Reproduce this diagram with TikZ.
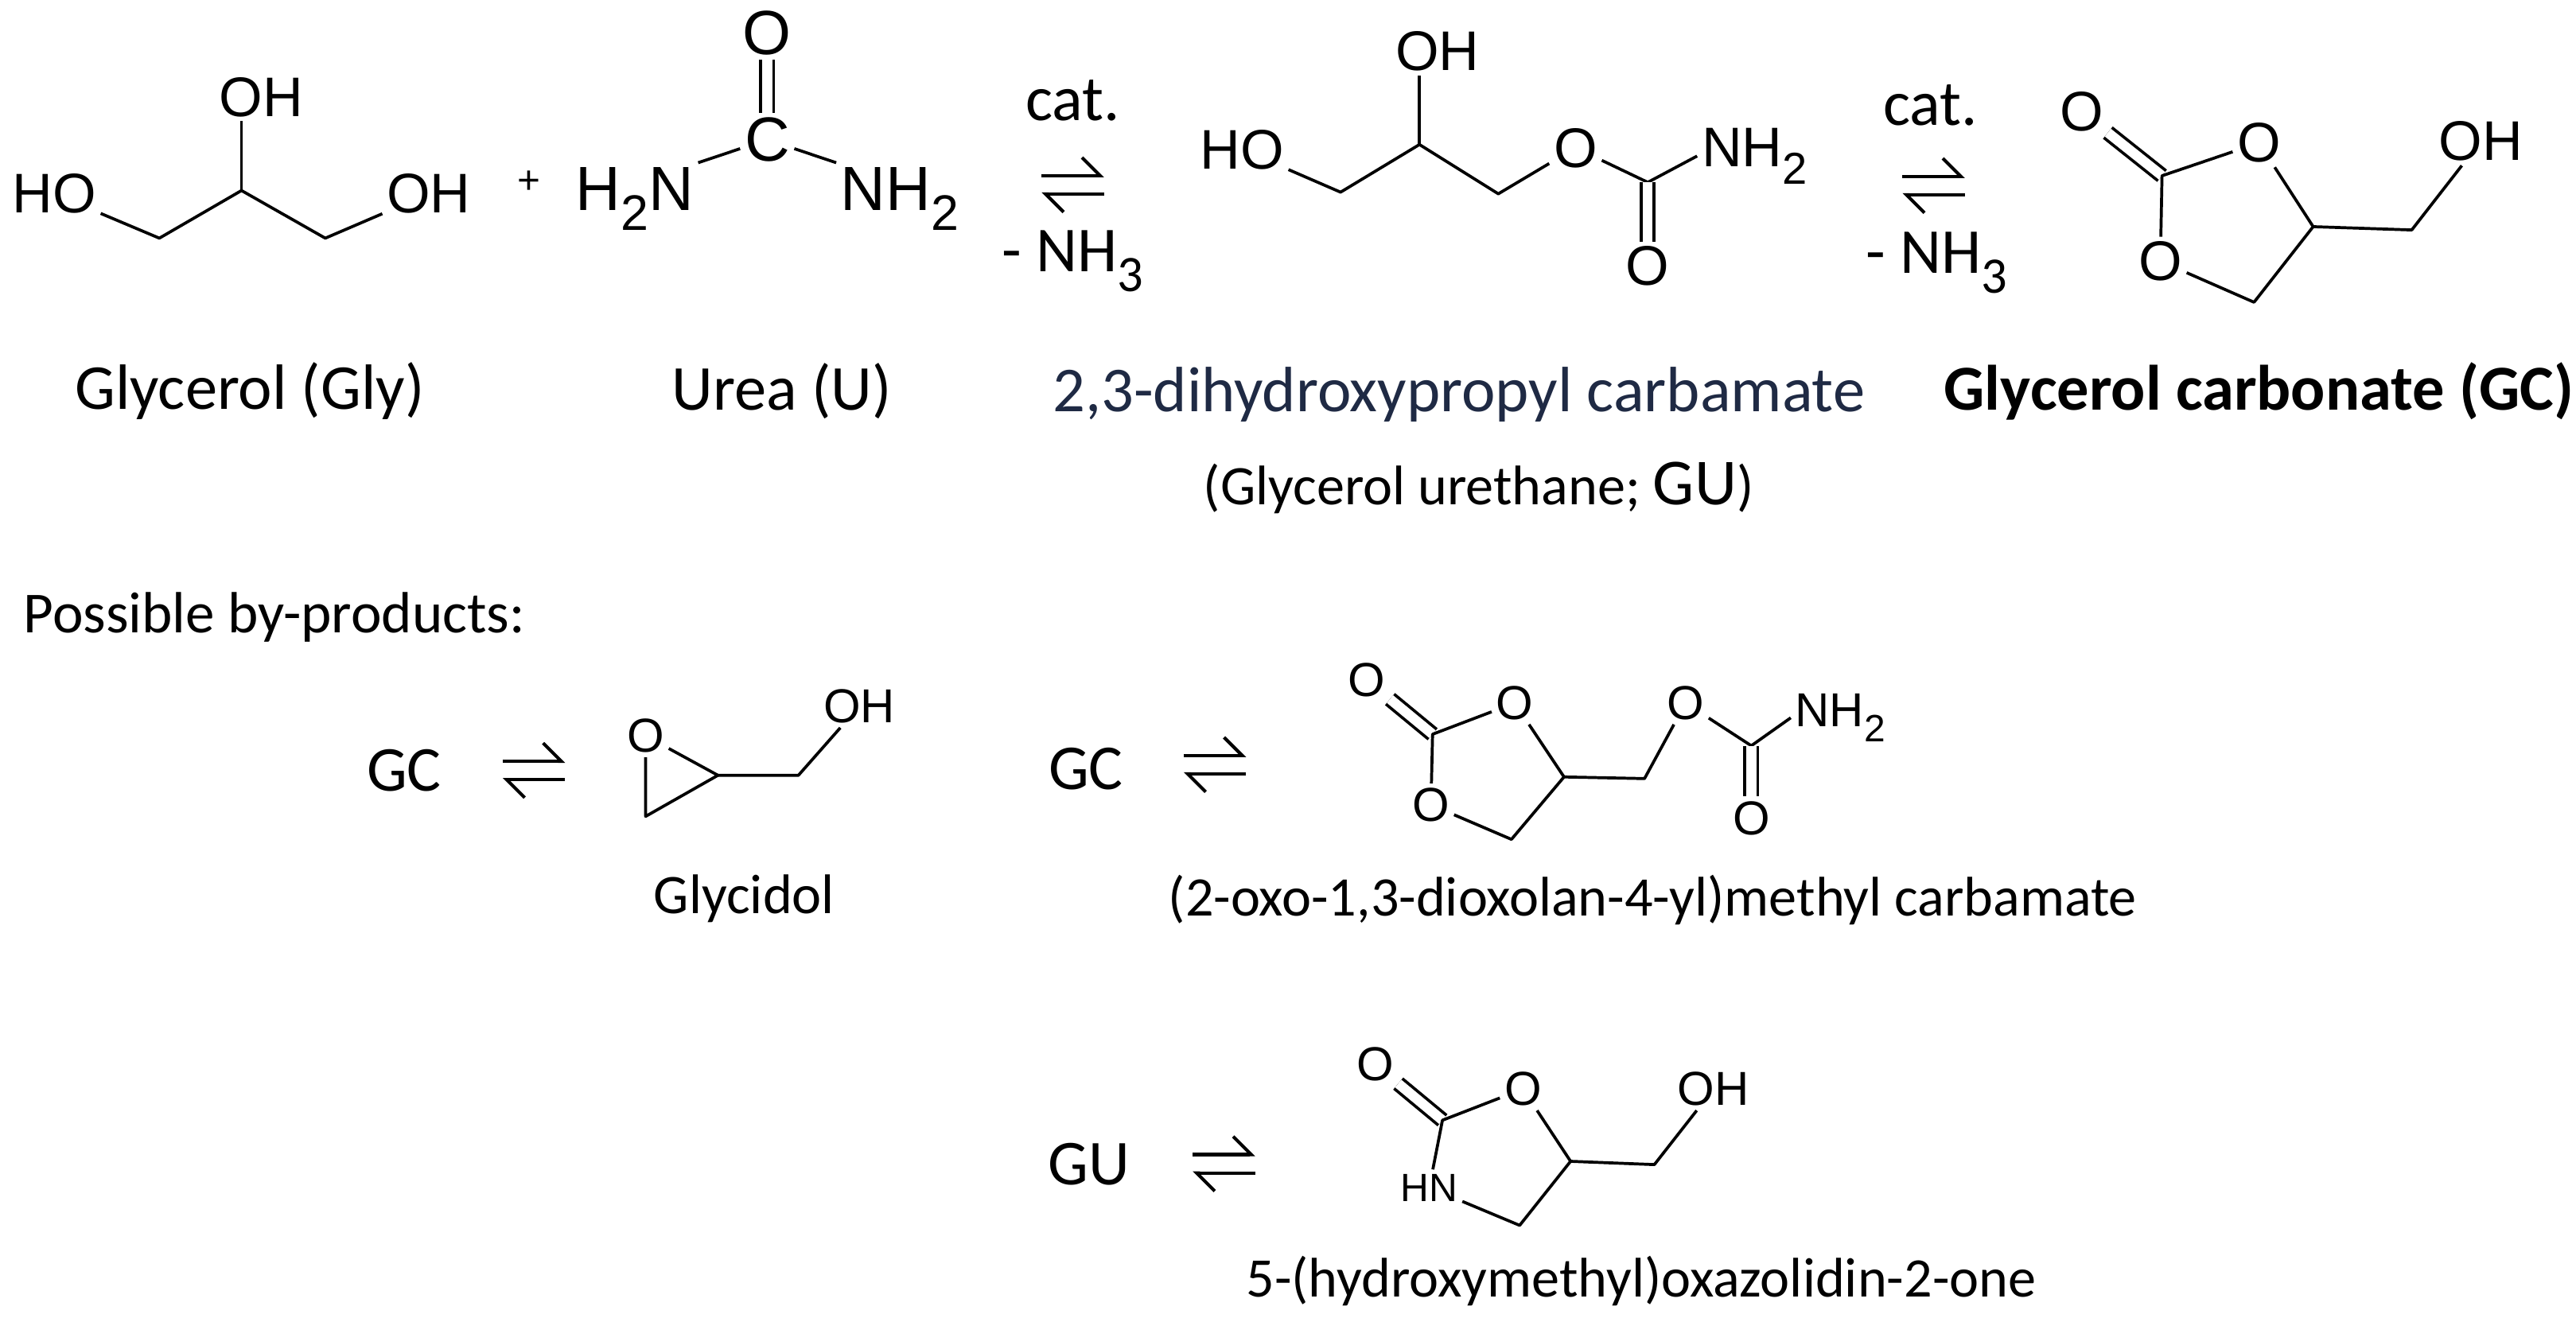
\documentclass[tikz,border=0pt]{standalone}
\usepackage{fontspec}
\usepackage{graphicx}
\setmainfont{Carlito}
\newfontfamily\atomfam{Liberation Sans}
\usetikzlibrary{arrows.meta}
\definecolor{nameblue}{HTML}{1F2A44}
\newcommand{\sbs}[1]{\raisebox{-.32em}{\scalebox{.8}{#1}}}
\tikzset{
  atom/.style={font=\atomfam\fontsize{17}{20}\selectfont,inner sep=1.2pt},
  atombig/.style={font=\atomfam\fontsize{19}{22}\selectfont,inner sep=1.2pt},
  atomsm/.style={font=\atomfam\fontsize{14.5}{17}\selectfont,inner sep=1.2pt},
  atomxs/.style={font=\atomfam\fontsize{12}{14}\selectfont,inner sep=1.2pt},
  lbl/.style={font=\fontsize{19.5}{23}\selectfont,inner sep=0pt},
  lblsm/.style={font=\fontsize{17}{20}\selectfont,inner sep=0pt},
  bond/.style={line width=.9pt,line join=round},
  dbl/.style={bond,double,double distance=3pt},
  harp/.style={line width=1pt,-{Straight Barb[left,length=5.5pt,width=11pt]}}
}
\begin{document}
\begin{tikzpicture}[x=.5pt,y=-.5pt]
\useasboundingbox (0,0) rectangle (1568,802.4);
% glycerol
\node[atom] (glyHO) at (33,118) {HO};
\node[atom] (glyOHa) at (159,59) {OH};
\node[atom] (glyOHb) at (261,118) {OH};
\coordinate (glyCa) at (97,145);
\coordinate (glyCb) at (147,116);
\coordinate (glyCc) at (198,145);
\draw[bond] (glyHO) -- (glyCa) -- (glyCb) -- (glyCc) -- (glyOHb);
\draw[bond] (glyCb) -- (glyCb |- glyOHa.south);
\node[font=\atomfam\fontsize{12}{14}\selectfont,inner sep=0pt] (plus) at (322,111) {+};
% urea
\node[atombig] (urO) at (467,20) {O};
\node[atombig] (urC) at (467,85) {C};
\node[atombig,anchor=east] (urNa) at (425,121) {H\sbs{2}N};
\node[atombig,anchor=west] (urNb) at (509,121) {NH\sbs{2}};
\draw[dbl] (urO) -- (urC);
\draw[bond] (urC) -- (urNa.north east);
\draw[bond] (urC) -- (urNb.north west);
% glycerol urethane
\node[atom] (guHO) at (756,91) {HO};
\node[atom] (guOHa) at (875,31) {OH};
\node[atom] (guOb) at (959,90) {O};
\node[atom,anchor=west] (guN) at (1033,95) {NH\sbs{2}};
\node[atom] (guOc) at (1003,162) {O};
\coordinate (guCa) at (816,117);
\coordinate (guCb) at (864,88);
\coordinate (guCc) at (912,118);
\coordinate (guCd) at (1003,111);
\draw[bond] (guHO) -- (guCa) -- (guCb) -- (guCc) -- (guOb) -- (guCd) -- (guN.west);
\draw[bond] (guCb) -- (guCb |- guOHa.south);
\draw[dbl] (guCd) -- (guOc);
% glycerol carbonate
\node[atom] (gcOa) at (1267,68) {O};
\node[atom] (gcOb) at (1375,87) {O};
\node[atom] (gcOc) at (1315,159) {O};
\node[atom] (gcOH) at (1510,86) {OH};
\coordinate (gcCa) at (1316,107);
\coordinate (gcCb) at (1408,138);
\coordinate (gcCc) at (1372,184);
\coordinate (gcCd) at (1468,140);
\draw[dbl] (gcOa) -- (gcCa);
\draw[bond] (gcOb) -- (gcCa) -- (gcOc) -- (gcCc) -- (gcCb) -- (gcOb);
\draw[bond] (gcCb) -- (gcCd) -- (gcOH);
% glycidol
\node[atomsm] (gdO) at (393,448) {O};
\node[atomsm] (gdOH) at (523,430) {OH};
\coordinate (gdCa) at (437,472);
\coordinate (gdCb) at (393,497);
\coordinate (gdCc) at (486,472);
\draw[bond] (gdO) -- (gdCa) -- (gdCb) -- (gdO);
\draw[bond] (gdCa) -- (gdCc) -- (gdOH);
% oxo-dioxolanyl methyl carbamate
\node[atomsm] (ocOa) at (832,414) {O};
\node[atomsm] (ocOb) at (922,428) {O};
\node[atomsm] (ocOc) at (871,490) {O};
\node[atomsm] (ocOd) at (1026,428) {O};
\node[atomsm] (ocOe) at (1066,498) {O};
\node[atomsm,anchor=west] (ocN) at (1090,437) {NH\sbs{2}};
\coordinate (ocCa) at (872,447);
\coordinate (ocCb) at (952,473);
\coordinate (ocCc) at (920,511);
\coordinate (ocCd) at (1001,474);
\coordinate (ocCe) at (1066,454);
\draw[dbl] (ocOa) -- (ocCa);
\draw[bond] (ocOb) -- (ocCa) -- (ocOc) -- (ocCc) -- (ocCb) -- (ocOb);
\draw[bond] (ocCb) -- (ocCd) -- (ocOd) -- (ocCe) -- (ocN.west);
\draw[dbl] (ocCe) -- (ocOe);
% oxazolidinone
\node[atomsm] (ozOa) at (837,648) {O};
\node[atomsm] (ozOb) at (927,663) {O};
\node[atomsm] (ozOH) at (1043,663) {OH};
\node[atomxs] (ozN) at (870,723) {HN};
\coordinate (ozCa) at (878,682);
\coordinate (ozCb) at (956,707);
\coordinate (ozCc) at (925,746);
\coordinate (ozCd) at (1007,709);
\draw[dbl] (ozOa) -- (ozCa);
\draw[bond] (ozOb) -- (ozCa) -- (ozN) -- (ozCc) -- (ozCb) -- (ozOb);
\draw[bond] (ozCb) -- (ozCd) -- (ozOH);
% equilibrium arrows
\foreach \nm/\cx/\cy in {eqa/653/112.5,eqb/1177/113,eqc/325/469,eqd/739.5/465.5,eqe/745/708.5} {
  \coordinate (\nm w) at (\cx-19,\cy);
  \coordinate (\nm e) at (\cx+19,\cy);
  \draw[harp] ([yshift=2.8pt]\nm w) -- ([yshift=2.8pt]\nm e);
  \draw[harp] ([yshift=-2.8pt]\nm e) -- ([yshift=-2.8pt]\nm w);
}
% reaction conditions
\node[lbl] (cata) at (653,61) {cat.};
\node[lbl] (catb) at (1175,64) {cat.};
\node[lbl] (nha) at (653,159) {- NH\sbs{3}};
\node[lbl] (nhb) at (1179,160) {- NH\sbs{3}};
% names
\node[lbl] (nmGly) at (152,238) {Glycerol (Gly)};
\node[lbl] (nmU) at (476,238) {Urea (U)};
\node[lbl,text=nameblue] (nmGU) at (888,240) {2,3-dihydroxypropyl carbamate};
\node[lbl,font=\fontsize{19.5}{23}\selectfont\bfseries] (nmGC) at (1375,238) {Glycerol carbonate (GC)};
\node[lblsm] (nmGUb) at (900,297) {(Glycerol urethane; {\fontsize{20}{23}\selectfont GU})};
\node[lblsm,anchor=west,font=\fontsize{17.7}{20}\selectfont] (nmBy) at (14,376) {Possible by-products:};
\node[lbl] (gcA) at (246,469) {GC};
\node[lbl] (gcB) at (661,468) {GC};
\node[lbl] (guA) at (663,709) {GU};
\node[lblsm] (nmGd) at (453,547) {Glycidol};
\node[lblsm] (nmOc) at (1006,548) {(2-oxo-1,3-dioxolan-4-yl)methyl carbamate};
\node[lblsm] (nmOz) at (999,780) {5-(hydroxymethyl)oxazolidin-2-one};
\end{tikzpicture}
\end{document}
